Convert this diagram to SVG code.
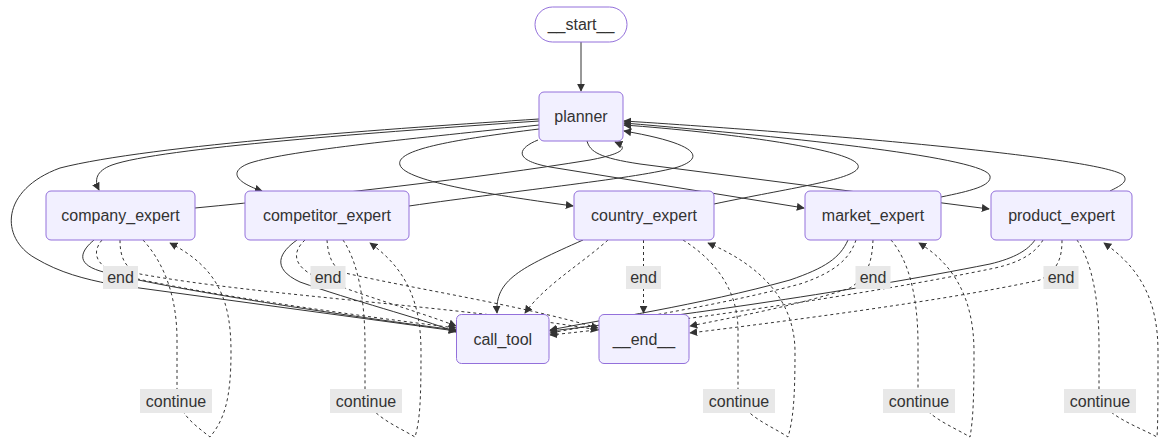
<svg xmlns="http://www.w3.org/2000/svg" width="1167" height="446" viewBox="0 0 1167 446">
<style>
.node rect{fill:#f2f0ff;stroke:#9370DB;stroke-width:1}
.node.first rect{fill:#ffffff}
.node text,.lbl text{font-family:"Liberation Sans",Arial,sans-serif;font-size:16px;fill:#333;text-anchor:middle}
.e{fill:none;stroke:#333;stroke-width:1;marker-end:url(#ah)}
.d{stroke-dasharray:3 3}
.lbl rect{fill:#e8e8e8}
</style>
<defs>
<marker id="ah" viewBox="0 0 10 10" refX="9" refY="5" markerWidth="8" markerHeight="8" markerUnits="userSpaceOnUse" orient="auto"><path d="M0,0 L10,5 L0,10 z" fill="#333"/></marker>
</defs>
<rect width="1167" height="446" fill="#ffffff"/>
<g id="edges">
<path class="e" d="M581,42 L581,91"/>
<path class="e" d="M539,121 C380,132 160,148 112,165 C96,171 94,180 99,190"/>
<path class="e" d="M539,119 C400,128 150,145 60,168 C0,190 0,238 35,258 C60,273 85,279 110,284 L456,331"/>
<path class="e" d="M539,125 C420,138 290,150 250,163 C228,171 235,182 262,191"/>
<path class="e" d="M539,129 C450,140 395,150 400,165 C405,182 500,196 573,206"/>
<path class="e" d="M538,140 C518,148 512,160 550,167 L804,208"/>
<path class="e" d="M587,141 C590,152 600,158 640,164 L989,209"/>
<path class="e" d="M195,208 C320,196 480,178 590,160 C622,154 630,148 615,142"/>
<path class="e" d="M409,206 C520,190 640,178 678,167 C705,158 700,144 624,131"/>
<path class="e" d="M714,204 C790,188 852,180 858,168 C866,150 720,132 624,125"/>
<path class="e" d="M941,197 C970,191 992,186 990,176 C986,158 800,138 624,123"/>
<path class="e" d="M1110,191 C1120,186 1128,182 1124,176 C1112,160 860,136 624,121"/>
<path class="e" d="M94,240 C82,250 74,263 100,271 C160,288 360,318 456,330"/>
<path class="e d" d="M102,240 C92,252 94,265 120,275 C200,294 360,316 456,328"/>
<path class="e d" d="M120,240 C120,256 124,268 140,274 C260,296 460,306 598,330"/>
<path class="e d" d="M143,240 C166,265 177,300 177,340 L177,392 C178,414 195,425 210,437 C224,420 231,400 231,352 C231,300 218,268 170,243"/>
<path class="e" d="M297,240 C280,252 270,268 300,282 C350,300 420,318 456,332"/>
<path class="e d" d="M305,240 C292,252 292,266 318,278 C360,295 420,312 456,326"/>
<path class="e d" d="M327,240 C328,255 332,268 345,273 C420,290 520,305 598,328"/>
<path class="e d" d="M343,240 C358,262 365,300 365,345 L365,392 C366,414 395,425 415,437 C420,420 421,400 421,352 C421,300 405,268 370,243"/>
<path class="e" d="M583,240 C520,268 495,280 497,313"/>
<path class="e d" d="M608,240 C580,265 545,285 525,313"/>
<path class="e d" d="M643.5,240 L643.5,313"/>
<path class="e d" d="M683,240 C715,260 738,290 738,330 L738,392 C739,414 770,425 788,437 C793,420 795,400 795,352 C795,300 760,265 708,243"/>
<path class="e" d="M848,240 C840,258 825,268 790,280 C700,305 600,320 550,330"/>
<path class="e d" d="M856,240 C850,258 836,272 800,284 C710,308 610,322 550,333"/>
<path class="e d" d="M873,240 C872,258 870,275 850,288 C800,305 730,318 690,326"/>
<path class="e d" d="M891,240 C910,262 918,300 918,345 L918,392 C919,414 950,425 970,437 C973,420 974,400 974,352 C974,300 955,265 919,243"/>
<path class="e" d="M1035,240 C1028,250 1015,258 990,264 C850,292 650,320 550,331"/>
<path class="e d" d="M1043,240 C1036,252 1022,262 995,268 C860,296 660,324 550,335"/>
<path class="e d" d="M1062,240 C1062,258 1058,270 1040,280 C950,300 780,322 690,333"/>
<path class="e d" d="M1077,240 C1092,262 1099,300 1099,345 L1099,392 C1100,414 1135,425 1157,437 C1158,420 1158,400 1158,352 C1158,300 1140,268 1104,243"/>
</g>
<g id="edge-labels">
<g class="lbl"><rect x="103" y="266" width="35" height="23"/><text x="120.5" y="283">end</text></g>
<g class="lbl"><rect x="310.5" y="266" width="35" height="23"/><text x="328" y="283">end</text></g>
<g class="lbl"><rect x="626" y="266" width="35" height="23"/><text x="643.5" y="283">end</text></g>
<g class="lbl"><rect x="855.5" y="266" width="35" height="23"/><text x="873" y="283">end</text></g>
<g class="lbl"><rect x="1043.5" y="266" width="35" height="23"/><text x="1061" y="283">end</text></g>
<g class="lbl"><rect x="140" y="389" width="72" height="24"/><text x="176" y="406.5">continue</text></g>
<g class="lbl"><rect x="330" y="389" width="72" height="24"/><text x="366" y="406.5">continue</text></g>
<g class="lbl"><rect x="703" y="389" width="72" height="24"/><text x="739" y="406.5">continue</text></g>
<g class="lbl"><rect x="883" y="389" width="72" height="24"/><text x="919" y="406.5">continue</text></g>
<g class="lbl"><rect x="1064" y="389" width="72" height="24"/><text x="1100" y="406.5">continue</text></g>
</g>
<g id="node-start" class="node first"><rect x="535" y="7" width="92" height="35" rx="17.5" ry="17.5"/><text x="581" y="30">__start__</text></g>
<g id="node-planner" class="node"><rect x="539" y="92" width="84" height="49" rx="5" ry="5"/><text x="581" y="122">planner</text></g>
<g id="node-company_expert" class="node"><rect x="46" y="191" width="149" height="49" rx="5" ry="5"/><text x="120.5" y="221">company_expert</text></g>
<g id="node-competitor_expert" class="node"><rect x="245" y="191" width="164" height="49" rx="5" ry="5"/><text x="327" y="221">competitor_expert</text></g>
<g id="node-country_expert" class="node"><rect x="574" y="191" width="140" height="49" rx="5" ry="5"/><text x="644" y="221">country_expert</text></g>
<g id="node-market_expert" class="node"><rect x="805" y="191" width="136" height="49" rx="5" ry="5"/><text x="873" y="221">market_expert</text></g>
<g id="node-product_expert" class="node"><rect x="991" y="191" width="141" height="49" rx="5" ry="5"/><text x="1061.5" y="221">product_expert</text></g>
<g id="node-call_tool" class="node"><rect x="456.5" y="314.5" width="92.5" height="49" rx="5" ry="5"/><text x="502.75" y="344.5">call_tool</text></g>
<g id="node-end" class="node"><rect x="599" y="314.5" width="90" height="49" rx="5" ry="5"/><text x="644" y="344.5">__end__</text></g>
</svg>
